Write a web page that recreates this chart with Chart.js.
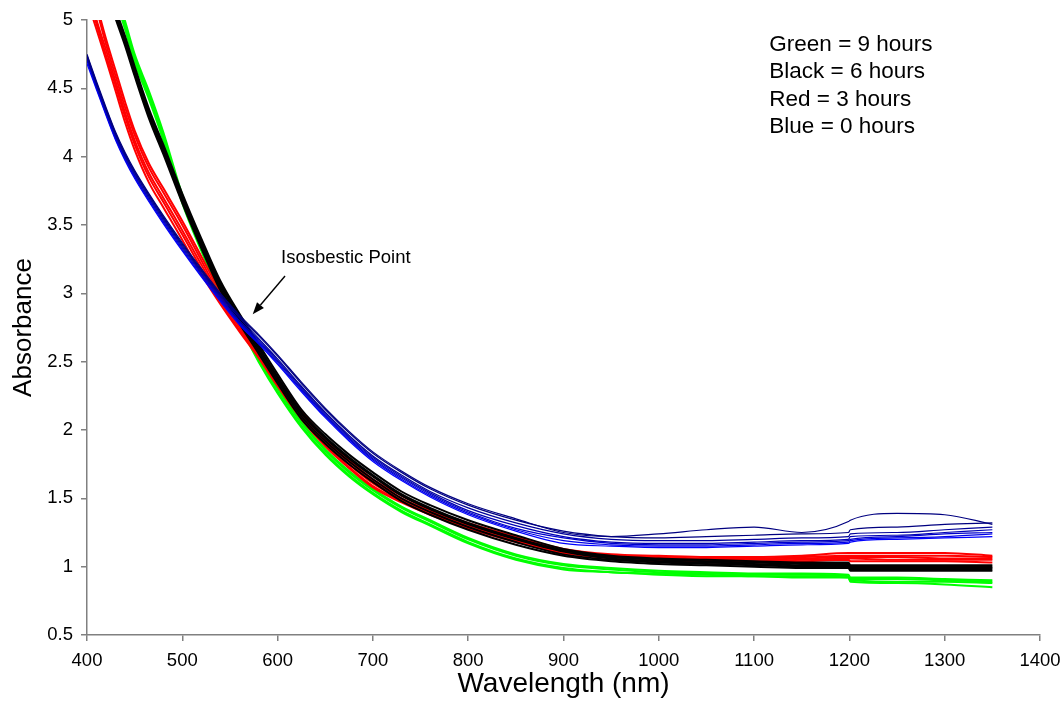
<!DOCTYPE html>
<html><head><meta charset="utf-8">
<script src="https://cdn.jsdelivr.net/npm/chart.js@4"></script>
<style>html,body{margin:0;padding:0;background:#fff}#wrap{width:1063px;height:715px;position:relative}</style>
</head><body><div id="wrap"><canvas id="c" width="1063" height="715"></canvas></div>
<script>
// Wavelength grid (nm)
const wavelengths = [400,410,420,430,440,450,465,480,500,520,540,560,580,600,625,650,675,700,730,760,800,850,900,950,1000,1050,1100,1150,1199,1201,1250,1300,1350];

// Blue = 0 hours
const blue1 = [4.75,4.55,4.36,4.18,4.03,3.90,3.73,3.57,3.37,3.18,3.00,2.84,2.70,2.55,2.35,2.16,1.99,1.84,1.70,1.58,1.46,1.35,1.25,1.22,1.24,1.27,1.29,1.25,1.33,1.34,1.39,1.38,1.31];
const blue2 = [4.74,4.54,4.35,4.17,4.02,3.89,3.72,3.56,3.36,3.17,2.99,2.83,2.69,2.54,2.34,2.15,1.98,1.83,1.69,1.57,1.45,1.34,1.26,1.22,1.21,1.22,1.23,1.24,1.25,1.27,1.29,1.31,1.32];
const blue3 = [4.73,4.53,4.34,4.16,4.01,3.88,3.71,3.55,3.35,3.16,2.98,2.82,2.67,2.52,2.32,2.13,1.96,1.81,1.67,1.55,1.43,1.32,1.24,1.20,1.19,1.19,1.20,1.21,1.22,1.24,1.25,1.27,1.29];
const blue4 = [4.72,4.52,4.33,4.15,4.00,3.87,3.70,3.54,3.34,3.15,2.97,2.80,2.66,2.51,2.31,2.12,1.95,1.80,1.66,1.54,1.41,1.30,1.22,1.18,1.17,1.17,1.18,1.19,1.20,1.22,1.23,1.25,1.27];
const blue5 = [4.71,4.51,4.32,4.14,3.99,3.86,3.69,3.53,3.33,3.14,2.96,2.79,2.65,2.50,2.30,2.11,1.94,1.79,1.65,1.53,1.40,1.28,1.21,1.17,1.16,1.16,1.17,1.18,1.19,1.20,1.22,1.24,1.25];
const blue6 = [4.70,4.50,4.31,4.13,3.98,3.85,3.68,3.52,3.32,3.13,2.95,2.78,2.64,2.49,2.29,2.10,1.93,1.78,1.64,1.52,1.39,1.27,1.19,1.16,1.15,1.15,1.16,1.17,1.18,1.19,1.21,1.22,1.24];
const blue7 = [4.68,4.49,4.30,4.12,3.97,3.84,3.67,3.51,3.31,3.12,2.94,2.77,2.63,2.48,2.28,2.09,1.92,1.77,1.63,1.51,1.38,1.26,1.17,1.15,1.14,1.14,1.15,1.16,1.17,1.18,1.20,1.21,1.22];

// Red = 3 hours
const red1 = [5.40,5.12,4.86,4.63,4.40,4.19,3.95,3.77,3.53,3.27,3.01,2.78,2.59,2.38,2.14,1.94,1.78,1.64,1.52,1.42,1.32,1.22,1.13,1.09,1.08,1.07,1.07,1.08,1.10,1.10,1.10,1.10,1.08];
const red2 = [5.32,5.08,4.82,4.59,4.36,4.16,3.92,3.74,3.50,3.24,2.98,2.77,2.58,2.37,2.13,1.93,1.77,1.63,1.50,1.41,1.31,1.21,1.12,1.08,1.07,1.06,1.06,1.07,1.08,1.08,1.08,1.08,1.07];
const red3 = [5.26,5.00,4.78,4.55,4.32,4.12,3.88,3.70,3.46,3.21,2.96,2.75,2.56,2.35,2.11,1.91,1.75,1.61,1.49,1.40,1.30,1.20,1.12,1.08,1.06,1.05,1.05,1.06,1.07,1.07,1.07,1.06,1.06];
const red4 = [5.20,4.97,4.74,4.52,4.29,4.09,3.85,3.67,3.43,3.18,2.94,2.73,2.54,2.33,2.09,1.89,1.73,1.59,1.48,1.39,1.29,1.19,1.11,1.07,1.05,1.04,1.04,1.05,1.06,1.06,1.05,1.05,1.05];
const red5 = [5.15,4.93,4.71,4.48,4.25,4.05,3.81,3.63,3.39,3.14,2.92,2.72,2.53,2.32,2.08,1.88,1.72,1.58,1.47,1.38,1.28,1.18,1.10,1.06,1.04,1.03,1.03,1.04,1.05,1.04,1.04,1.04,1.03];

// Black = 6 hours
const black1 = [5.73,5.51,5.29,5.08,4.88,4.66,4.35,4.09,3.73,3.40,3.09,2.85,2.63,2.41,2.15,1.97,1.82,1.69,1.55,1.45,1.34,1.23,1.13,1.08,1.06,1.05,1.04,1.03,1.03,1.01,1.01,1.01,1.01];
const black2 = [5.71,5.49,5.27,5.06,4.86,4.64,4.33,4.07,3.71,3.38,3.07,2.83,2.61,2.39,2.13,1.95,1.80,1.67,1.53,1.43,1.32,1.21,1.12,1.07,1.05,1.04,1.03,1.02,1.02,1.00,1.00,1.00,1.00];
const black3 = [5.70,5.48,5.26,5.05,4.85,4.63,4.32,4.06,3.70,3.37,3.06,2.82,2.60,2.38,2.12,1.94,1.79,1.66,1.52,1.42,1.31,1.20,1.11,1.06,1.04,1.03,1.02,1.01,1.01,0.99,0.99,0.99,0.99];
const black4 = [5.68,5.46,5.24,5.03,4.83,4.61,4.30,4.04,3.68,3.35,3.04,2.80,2.58,2.36,2.10,1.92,1.77,1.64,1.50,1.40,1.29,1.18,1.09,1.05,1.03,1.02,1.01,1.00,1.00,0.98,0.98,0.98,0.98];
const black5 = [5.66,5.44,5.22,5.01,4.81,4.59,4.28,4.02,3.66,3.33,3.02,2.78,2.56,2.34,2.08,1.90,1.75,1.62,1.48,1.38,1.27,1.16,1.08,1.04,1.02,1.01,1.00,0.99,0.99,0.97,0.97,0.97,0.97];

// Green = 9 hours
const green1 = [5.88,5.65,5.43,5.21,4.99,4.75,4.48,4.18,3.72,3.36,3.03,2.79,2.54,2.31,2.06,1.86,1.70,1.57,1.44,1.34,1.21,1.09,1.02,0.99,0.97,0.96,0.95,0.95,0.94,0.92,0.92,0.91,0.90];
const green2 = [5.86,5.63,5.41,5.19,4.97,4.73,4.46,4.16,3.70,3.34,3.02,2.78,2.53,2.30,2.05,1.85,1.69,1.56,1.43,1.33,1.20,1.08,1.01,0.98,0.96,0.95,0.94,0.94,0.93,0.91,0.91,0.90,0.89];
const green3 = [5.84,5.61,5.39,5.17,4.95,4.71,4.44,4.14,3.68,3.32,3.00,2.77,2.51,2.28,2.03,1.83,1.67,1.54,1.41,1.31,1.18,1.06,0.99,0.96,0.95,0.94,0.93,0.93,0.92,0.90,0.89,0.89,0.88];
const green4 = [5.82,5.59,5.37,5.15,4.93,4.69,4.42,4.12,3.66,3.31,2.99,2.76,2.50,2.27,2.02,1.82,1.66,1.53,1.40,1.30,1.17,1.05,0.98,0.96,0.94,0.93,0.93,0.92,0.92,0.89,0.88,0.87,0.85];

// Axis tick values
const xTicks = [400,500,600,700,800,900,1000,1100,1200,1300,1400];
const yTicks = [0.5,1,1.5,2,2.5,3,3.5,4,4.5,5];

const noteText = 'Isosbestic Point';
const legendLines = ['Green = 9 hours','Black = 6 hours','Red = 3 hours','Blue = 0 hours'];

const FONT = '"Liberation Sans", Arial, Helvetica, sans-serif';

function series(vals, color, width, order){
  return {
    data: wavelengths.map((w,i)=>({x:w, y:vals[i]})),
    borderColor: color, borderWidth: width, pointRadius: 0,
    cubicInterpolationMode: 'monotone', fill: false, order: order
  };
}

const datasets = [
  series(green1,'#00FF00',2,4), series(green2,'#00FF00',2,4), series(green3,'#00FF00',2,4), series(green4,'#00FF00',2,4),
  series(red1,'#FF0000',2,3), series(red2,'#FF0000',2,3), series(red3,'#FF0000',2,3), series(red4,'#FF0000',2,3), series(red5,'#FF0000',2,3),
  series(black1,'#000000',2,2), series(black2,'#000000',2,2), series(black3,'#000000',2,2), series(black4,'#000000',2,2), series(black5,'#000000',2,2),
  series(blue1,'#000080',1.2,1), series(blue2,'#000080',1.2,1), series(blue3,'#00009A',1.2,1), series(blue4,'#0000B4',1.2,1),
  series(blue5,'#0000CC',1.2,1), series(blue6,'#0000E6',1.2,1), series(blue7,'#0000FF',1.2,1)
];

const notes = {
  id: 'notes',
  afterDatasetsDraw(chart){
    const {ctx, scales:{x, y}} = chart;
    ctx.save();
    ctx.fillStyle = '#000';
    ctx.strokeStyle = '#000';
    ctx.font = '18.5px ' + FONT;
    ctx.textBaseline = 'alphabetic';
    ctx.textAlign = 'left';
    ctx.fillText(noteText, x.getPixelForValue(603.6), y.getPixelForValue(3.222));
    const x1 = x.getPixelForValue(607.8), y1 = y.getPixelForValue(3.127);
    const x2 = x.getPixelForValue(573.9), y2 = y.getPixelForValue(2.847);
    const ang = Math.atan2(y2-y1, x2-x1);
    const L = 12, W = 4.5;
    const bx = x2 - L*Math.cos(ang), by = y2 - L*Math.sin(ang);
    ctx.lineWidth = 1.4;
    ctx.beginPath(); ctx.moveTo(x1,y1); ctx.lineTo(bx,by); ctx.stroke();
    ctx.beginPath();
    ctx.moveTo(x2,y2);
    ctx.lineTo(bx + W*Math.sin(ang), by - W*Math.cos(ang));
    ctx.lineTo(bx - W*Math.sin(ang), by + W*Math.cos(ang));
    ctx.closePath(); ctx.fill();
    ctx.font = '22.5px ' + FONT;
    const lx = x.getPixelForValue(1116);
    const baseVals = [4.773, 4.572, 4.371, 4.170];
    legendLines.forEach((t,i)=> ctx.fillText(t, lx, y.getPixelForValue(baseVals[i])));
    ctx.restore();
  }
};

new Chart(document.getElementById('c'), {
  type: 'line',
  data: { datasets },
  plugins: [notes],
  options: {
    responsive: false, animation: false,
    layout: { padding: { top: 20, right: 23, bottom: 0, left: 0 } },
    plugins: { legend: { display: false }, tooltip: { enabled: false } },
    scales: {
      x: {
        type: 'linear', min: 400, max: 1400,
        afterFit(s){ s.height = 80; s.paddingRight = 0; s.paddingLeft = 0; },
        afterBuildTicks(s){ s.ticks = xTicks.map(v=>({value:v})); },
        grid: { display: true, drawOnChartArea: false, drawTicks: true, tickLength: 6, color: '#808080', lineWidth: 1.5 },
        border: { display: true, color: '#808080', width: 1.5 },
        ticks: { color: '#000', padding: 9, font: { family: FONT, size: 18.5 }, maxRotation: 0, callback: v => String(v) },
        title: { display: true, text: 'Wavelength (nm)', color: '#000', font: { family: FONT, size: 28 }, padding: { top: 0, bottom: 14 } }
      },
      y: {
        type: 'linear', min: 0.5, max: 5,
        afterFit(s){ s.width = 87; },
        afterBuildTicks(s){ s.ticks = yTicks.map(v=>({value:v})); },
        grid: { display: true, drawOnChartArea: false, drawTicks: true, tickLength: 6, color: '#808080', lineWidth: 1.5 },
        border: { display: true, color: '#808080', width: 1.5 },
        ticks: { color: '#000', padding: 8, font: { family: FONT, size: 18.5 }, callback: v => String(v) },
        title: { display: true, text: 'Absorbance', color: '#000', font: { family: FONT, size: 26 }, padding: { top: 8, bottom: 0 } }
      }
    }
  }
});
</script></body></html>
